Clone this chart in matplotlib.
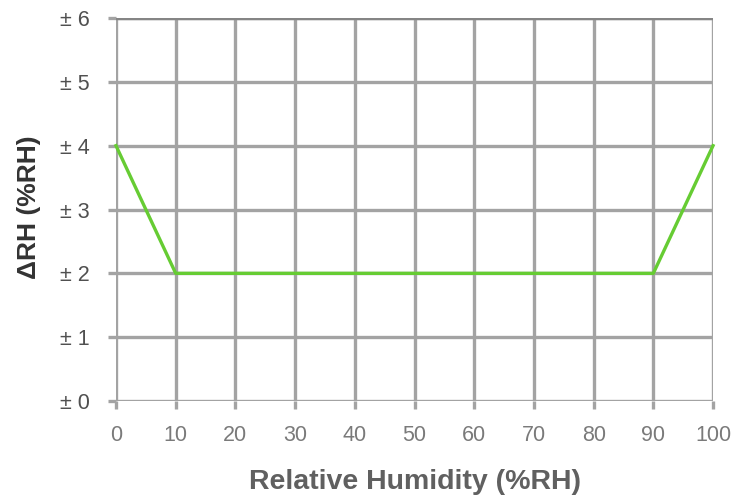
import matplotlib
matplotlib.use("Agg")
import matplotlib.pyplot as plt

rh = [0, 10, 90, 100]
delta = [4, 2, 2, 4]
xticks = [0, 10, 20, 30, 40, 50, 60, 70, 80, 90, 100]
yticks = [0, 1, 2, 3, 4, 5, 6]
ylabels = ["± " + str(v) for v in yticks]

plt.rcParams['font.family'] = ['Liberation Sans', 'DejaVu Sans']
fig = plt.figure(figsize=(7.36, 4.99), dpi=100)
ax = fig.add_axes([0.1576, 0.1964, 0.8112, 0.7675])
ax.set_xlim(0, 100)
ax.set_ylim(0, 6)
ax.set_xticks(xticks)
ax.set_yticks(yticks)
ax.set_yticklabels(ylabels)
ax.grid(True, color='#a3a3a3', linewidth=2.4)
ax.set_axisbelow(True)
for s in ax.spines.values():
    s.set_visible(False)
ax.axhline(6, color='#858585', linewidth=2.4, zorder=1)
ax.tick_params(axis='both', length=6, width=2.4, color='#a3a3a3', labelsize=15.5)
ax.tick_params(axis='x', labelcolor='#7a7a7a', pad=11)
ax.tick_params(axis='y', labelcolor='#505050', pad=13)
ax.plot(rh, delta, color='#66cc33', linewidth=2.4, zorder=3, clip_on=False)
fig.text(0.564, 0.034, "Relative Humidity (%RH)", fontsize=20.5, color='#606060',
         fontweight='bold', ha='center', va='center')
fig.text(0.039, 0.584, "ΔRH (%RH)", fontsize=19, color='#333333',
         fontweight='bold', ha='center', va='center', rotation=90)
fig.savefig("out.png", dpi=100)
